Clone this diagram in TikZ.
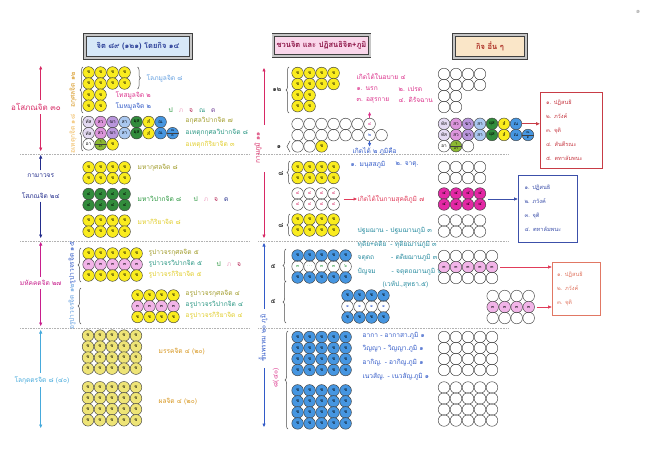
\documentclass[tikz,border=0pt]{standalone}
\usepackage{fontspec}
\newfontfamily\thaifont[Script=Thai]{Loma}
\usetikzlibrary{positioning,arrows.meta,decorations.pathreplacing,calc}

% circle fills
\definecolor{cyel}{RGB}{250,236,30}
\definecolor{cyelp}{RGB}{238,228,118}
\definecolor{cblu}{RGB}{70,150,225}
\definecolor{cgrn}{RGB}{50,140,60}
\definecolor{cpnk}{RGB}{242,180,232}
\definecolor{cmag}{RGB}{228,40,165}
\definecolor{clav}{RGB}{228,218,242}
\definecolor{cpur}{RGB}{220,150,220}
\definecolor{cvio}{RGB}{185,150,220}
\definecolor{clbl}{RGB}{170,200,240}
\definecolor{clim}{RGB}{140,185,50}
% text colours
\definecolor{tred}{RGB}{215,40,100}
\definecolor{tnav}{RGB}{35,45,140}
\definecolor{tmag}{RGB}{200,30,140}
\definecolor{tsky}{RGB}{70,170,220}
\definecolor{tgold}{RGB}{215,150,30}
\definecolor{tora}{RGB}{240,185,90}
\definecolor{tblu}{RGB}{50,90,200}
\definecolor{tlbl}{RGB}{100,160,225}
\definecolor{tpnk}{RGB}{220,50,140}
\definecolor{tlpk}{RGB}{240,170,200}
\definecolor{toli}{RGB}{160,155,40}
\definecolor{tteal}{RGB}{40,150,130}
\definecolor{tyel}{RGB}{225,205,40}
\definecolor{tgrn}{RGB}{40,150,60}
\definecolor{tcyan}{RGB}{40,140,160}
\definecolor{tpur}{RGB}{110,60,150}
\definecolor{tdrd}{RGB}{180,30,80}
% boxes
\definecolor{bred}{RGB}{200,60,70}
\definecolor{bnav}{RGB}{60,80,170}
\definecolor{bora}{RGB}{225,120,100}
\definecolor{aora}{RGB}{225,60,90}

% grid of circles: name, x0, y0, cols, rows, style, text
\newcommand{\cgrid}[7]{%
  \foreach \r in {1,...,#5}{%
    \foreach \c in {1,...,#4}{%
      \node[cir,#6] (#1-\r-\c) at ({#2+(\c-1)*12},{#3+(\r-1)*11}) {#7};}}}

\begin{document}
\begin{tikzpicture}[
    x=1pt, y=-1pt,
    font=\thaifont\fontsize{6.6}{7.6}\selectfont,
    cir/.style={
        circle,
        draw=black!75,
        line width=0.45pt,
        minimum size=11.6pt,
        inner sep=0pt,
        font=\thaifont\fontsize{4.6}{5}\selectfont
    },
    yel/.style={fill=cyel},
    yelp/.style={fill=cyelp},
    blu/.style={fill=cblu},
    grn/.style={fill=cgrn},
    pnk/.style={fill=cpnk},
    mag/.style={fill=cmag},
    lbl/.style={anchor=west, inner sep=0.5pt},
    vlbl/.style={rotate=90, inner sep=0.5pt},
    tiny/.style={inner sep=0pt, font=\thaifont\fontsize{3.4}{3.6}\selectfont},
    arrow/.style={
        -{Triangle[length=3.5pt,width=3pt]},
        line width=0.6pt
    },
    brace/.style={
        decorate,
        decoration={brace, amplitude=3pt},
        line width=0.5pt,
        black!70
    },
    sep/.style={gray!60, densely dotted, line width=0.6pt},
    titlebox/.style={
        draw=black!75,
        line width=0.7pt,
        double=gray!45,
        double distance=2pt,
        font=\thaifont\fontsize{7.5}{9}\selectfont\bfseries
    },
    fnbox/.style={
        draw,
        line width=0.6pt,
        align=left,
        inner sep=3pt,
        font=\thaifont\fontsize{5.6}{14}\selectfont
    }
]
\useasboundingbox (0,0) rectangle (650,476);
\fill[white] (0,0) rectangle (650,476);

% Titles
\node[titlebox, fill={rgb,255:red,215;green,232;blue,248}, text={rgb,255:red,40;green,60;blue,150},
      minimum width=106pt, minimum height=23pt] (tleft) at (138,46.5) {จิต ๘๙ (๑๒๑) โดยกิจ ๑๔};
\node[titlebox, fill={rgb,255:red,250;green,215;blue,235}, text={rgb,255:red,140;green,20;blue,70},
      minimum width=73pt, minimum height=21pt] (tmid) at (321.5,45.5) {ชวนจิต และ ปฏิสนธิจิต+ภูมิ};
\node[titlebox, fill={rgb,255:red,250;green,230;blue,200}, text={rgb,255:red,170;green,40;blue,30},
      minimum width=72pt, minimum height=23pt] (tright) at (490,46.5) {กิจ อื่น ๆ};
\node[gray!70, font=\thaifont\fontsize{7}{8}\selectfont] (pgno) at (638,12) {๑};

% Separators
\foreach \y in {154,241,328} {
    \draw[sep] (20,\y) -- (250,\y);
    \draw[sep] (258,\y) -- (508,\y);
}

% ---------------- Left column ----------------
% Asobhana 30
\node[text=tred, font=\thaifont\fontsize{8}{9}\selectfont] (lasob) at (36,107) {อโสภณจิต ๓๐};
\coordinate (lasobT) at (40.7,66);
\coordinate (lasobB) at (40.7,151);
\draw[arrow, tred] (lasob.north -| lasobT) -- (lasobT);
\draw[arrow, tred] (lasob.south -| lasobB) -- (lasobB);

% Akusala 12
\cgrid{lak}{88.6}{72.5}{4}{2}{yel}{ช}
\cgrid{lakb}{88.6}{94.7}{2}{2}{yel}{ช}
\draw[brace] (83,113) -- (83,67);
\node[vlbl, text=tgold] (lakl) at (73,90) {อกุศลจิต ๑๒};
\draw[brace] (137.5,67) -- (137.5,89);
\node[lbl, text=tlbl] (llobha) at (146,78) {โลภมูลจิต ๘};
\node[lbl, text=tpnk] (ldosa) at (115,95) {โทสมูลจิต ๒};
\node[lbl, text=tblu] (lmoha) at (115,106) {โมหมูลจิต ๒};
\node[lbl] (lfn1) at (168,110) {\textcolor{tgrn}{ป}\hspace{6pt}\textcolor{tlpk}{ภ}\hspace{6pt}\textcolor{tdrd}{จ}\hspace{6pt}\textcolor{tteal}{ณ}\hspace{6pt}\textcolor{tpur}{ต}};

% Ahetuka 18
\foreach \fc/\tx [count=\c] in {clav/ทัส,cpur/สว,cvio/ฆา,clbl/สา,cgrn/ผุส,cyel/สํ,cblu/ณ} {
    \node[cir, fill=\fc] (lah-1-\c) at ({88.6+(\c-1)*12},122) {\tx};
    \node[cir, fill=\fc] (lah-2-\c) at ({88.6+(\c-1)*12},133.2) {\tx};
}
\node[cir, fill=cblu] (lah-2-8) at ({88.6+7*12},133.2) {};
\draw[black!75, line width=0.4pt] (lah-2-8.west) -- (lah-2-8.east);
\node[tiny] at ([yshift=2.6pt]lah-2-8.center) {ณ};
\node[tiny] at ([yshift=-2.6pt]lah-2-8.center) {ต};
\node[cir, fill=white] (lah-3-1) at (88.6,144.4) {อา};
\node[cir, fill=clim] (lah-3-2) at (100.6,144.4) {};
\draw[black!75, line width=0.4pt] (lah-3-2.west) -- (lah-3-2.east);
\node[tiny] at ([yshift=2.6pt]lah-3-2.center) {วุ};
\node[tiny] at ([yshift=-2.6pt]lah-3-2.center) {อา};
\node[cir, yel] (lah-3-3) at (112.6,144.4) {ช};
\draw[brace] (83,151) -- (83,116);
\node[vlbl, text=tora] (lahl) at (73,134) {อเหตุกจิต ๑๘};
\node[lbl, text=toli] (lakv) at (185,121) {อกุศลวิปากจิต ๗};
\node[lbl, text=tteal] (lahkv) at (185,133) {อเหตุกกุศลวิปากจิต ๘};
\node[lbl, text=tyel] (lahki) at (185,145) {อเหตุกกิริยาจิต ๓};

% Kamavacara sobhana 24
\node[text=tnav, align=center] (lkam) at (40.7,186) {กามาวจร\\[13pt]โสภณจิต ๒๔};
\coordinate (lkamT) at (40.7,155);
\coordinate (lkamB) at (40.7,238);
\draw[arrow, tnav] (lkam.north) -- (lkamT);
\draw[arrow, tnav] (lkam.south) -- (lkamB);
\cgrid{lmk}{88.6}{167.3}{4}{2}{yel}{ช}
\cgrid{lmv}{88.6}{194}{4}{2}{grn}{๔}
\cgrid{lmi}{88.6}{220.6}{4}{2}{yel}{ช}
\node[lbl, text=toli] (lmkl) at (137,168) {มหากุศลจิต ๘};
\node[lbl, text=tgrn] (lmvl) at (137,199) {มหาวิปากจิต ๘};
\node[lbl] (lfn2) at (193,199) {\textcolor{tgrn}{ป}\hspace{6pt}\textcolor{tlpk}{ภ}\hspace{6pt}\textcolor{tdrd}{จ}\hspace{6pt}\textcolor{tnav}{ต}};
\node[lbl, text=tyel] (lmil) at (137,222) {มหากิริยาจิต ๘};

% Mahaggata 27
\node[text=tmag] (lmah) at (40.7,283) {มหัคคตจิต ๒๗};
\coordinate (lmahT) at (40.7,242);
\coordinate (lmahB) at (40.7,326);
\draw[arrow, tmag] (lmah.north) -- (lmahT);
\draw[arrow, tmag] (lmah.south) -- (lmahB);
\cgrid{lrk}{88.6}{253.5}{5}{1}{yel}{ช}
\cgrid{lrv}{88.6}{264.5}{5}{1}{pnk}{๓}
\cgrid{lri}{88.6}{275.5}{5}{1}{yel}{ช}
\draw[brace] (81,282) -- (81,248);
\node[vlbl, text=tblu] (lrl) at (72,263) {รูปาวจรจิต ๑๕};
\node[lbl, text=toli] (lrkl) at (148,253) {รูปาวจรกุศลจิต ๕};
\node[lbl, text=tteal] (lrvl) at (148,264) {รูปาวจรวิปากจิต ๕};
\node[lbl] (lfn3) at (216,264) {\textcolor{tgrn}{ป}\hspace{6pt}\textcolor{tlpk}{ภ}\hspace{6pt}\textcolor{tdrd}{จ}};
\node[lbl, text=tyel] (lril) at (148,275) {รูปาวจรกิริยาจิต ๕};
\cgrid{lak4}{137.5}{295.5}{4}{1}{yel}{ช}
\cgrid{lav4}{137.5}{306.3}{4}{1}{pnk}{๓}
\cgrid{lai4}{137.5}{317}{4}{1}{yel}{ช}
\draw[brace] (81,324) -- (81,288);
\node[vlbl, text=tlbl] (lal) at (72,307) {อรูปาวจรจิต ๑๒};
\node[lbl, text=toli] (lakl4) at (185,294) {อรูปาวจรกุศลจิต ๔};
\node[lbl, text=tteal] (lavl4) at (185,305) {อรูปาวจรวิปากจิต ๔};
\node[lbl, text=tyel] (lail4) at (185,316) {อรูปาวจรกิริยาจิต ๔};

% Lokuttara 8 (40)
\node[text=tsky] (llok) at (42,380) {โลกุตตรจิต ๘ (๔๐)};
\coordinate (llokT) at (40.7,330);
\coordinate (llokB) at (40.7,428);
\draw[arrow, tsky] (llok.north -| llokT) -- (llokT);
\draw[arrow, tsky] (llok.south -| llokB) -- (llokB);
\cgrid{lmg}{88}{335.6}{5}{4}{yelp}{ช}
\cgrid{lph}{88}{387.3}{5}{4}{yelp}{ช}
\node[lbl, text=tgold] (lmgl) at (158,352) {มรรคจิต ๔ (๒๐)};
\node[lbl, text=tgold] (lphl) at (158,402) {ผลจิต ๔ (๒๐)};

% ---------------- Middle column ----------------
\node[vlbl, text=tred] (mkam) at (258,148) {กามภูมิ ๑๑};
\coordinate (mkamA) at (264,125);
\coordinate (mkamT) at (264,68);
\coordinate (mkamB) at (264,172);
\coordinate (mkamD) at (264,238);
\draw[arrow, tred] (mkamA) -- (mkamT);
\draw[arrow, tred] (mkamB) -- (mkamD);

\cgrid{mak}{297.6}{73}{4}{2}{yel}{ช}
\cgrid{makb}{297.6}{95.2}{2}{2}{yel}{ช}
\draw[brace] (289,113) -- (289,67);
\node (makn) at (277,90) {๑๒};
\node[lbl, text=tpnk] (mapa) at (356,77) {เกิดได้ในอบาย ๔};
\node[lbl, text=tpnk] (map1) at (356,89) {๑. นรก};
\node[lbl, text=tpnk] (map2) at (398,89) {๒. เปรต};
\node[lbl, text=tpnk] (map3) at (356,100) {๓. อสุรกาย};
\node[lbl, text=tpnk] (map4) at (398,100) {๔. ดิรัจฉาน};

\foreach \c in {1,...,6} {
    \node[cir] (mah-1-\c) at ({297.6+(\c-1)*12},124) {};
    \node[cir] (mah-2-\c) at ({297.6+(\c-1)*12},135.2) {};
}
\node[cir, text=tpnk] (mah-1-7) at ({297.6+6*12},124) {๔};
\node[cir, text=tblu] (mah-2-7) at ({297.6+6*12},135.2) {๒};
\node[cir] (mah-2-8) at ({297.6+7*12},135.2) {};
\node[cir] (mah-3-1) at (297.6,146.4) {};
\node[cir] (mah-3-2) at (309.6,146.4) {};
\node[cir, yel] (mah-3-3) at (321.6,146.4) {ช};
\draw[brace] (290,152) -- (290,141);
\node (mahn) at (279,147) {๑};
\coordinate (mup4) at ($(mah-1-7.north)+(0,-6)$);
\draw[arrow, tpnk] (mah-1-7.north) -- (mup4);
\node[lbl, text=tblu] (mgd2) at (352,151) {เกิดได้ ๒ ภูมิคือ};
\draw[arrow, tblu] (mah-2-7.south) -- (mah-2-7.south |- mgd2.north);

\cgrid{mmk}{297.6}{167}{4}{2}{yel}{ช}
\cgrid{mmv}{297.6}{193.5}{4}{2}{}{\textcolor{tred}{๔}}
\cgrid{mmi}{297.6}{219.5}{4}{2}{yel}{ช}
\draw[brace] (290,184) -- (290,161);
\node (mmkn) at (281,173) {๘};
\draw[brace] (290,236) -- (290,214);
\node (mmin) at (281,225) {๘};
\node[lbl, text=tblu] (mmu1) at (350,165) {๑. มนุสสภูมิ};
\node[lbl, text=tblu] (mmu2) at (395,165) {๒. จาตุ.};
\node[lbl, text=aora] (mks) at (357,199) {เกิดได้ในกามสุคติภูมิ ๗};
\coordinate (mmvm) at ($(mmv-1-4.east)!0.5!(mmv-2-4.east)$);
\draw[arrow, aora, shorten <=4pt] (mmvm) -- (mks.west);
\node[lbl, text=tcyan] (mj1) at (357,231) {ปฐมฌาน - ปฐมฌานภูมิ ๓};

% Brahma planes
\node[vlbl, text=tblu] (mbr) at (263,338) {ชั้นพรหม ๒๐ ภูมิ};
\coordinate (mbrA) at (264,309);
\coordinate (mbrT) at (264,243);
\coordinate (mbrB) at (264,368);
\coordinate (mbrD) at (264,427);
\draw[arrow, tblu] (mbrA) -- (mbrT);
\draw[arrow, tblu] (mbrB) -- (mbrD);

\cgrid{mrk}{297.6}{255.5}{5}{1}{blu}{ช}
\foreach \tx [count=\c] in {๓,{.\,.\,.},๓,๓,๖}
    \node[cir, text=tgrn] (mrv-\c) at ({297.6+(\c-1)*12},266.5) {\tx};
\cgrid{mri}{297.6}{277.5}{5}{1}{blu}{ช}
\cgrid{mak4}{347.5}{295.5}{4}{1}{blu}{ช}
\cgrid{mav4}{347.5}{306.5}{4}{1}{}{\textcolor{tblu}{๑}}
\cgrid{mai4}{347.5}{317.5}{4}{1}{blu}{ช}
\draw[brace] (286,282) -- (286,249);
\node (mr5a) at (273,266) {๕};
\draw[brace] (286,323) -- (286,281);
\node (mr5b) at (273,301) {๕};
\node[lbl, text=tcyan] (mj2) at (357,245) {ทุติย+ตติย\hspace{4pt}- ทุติยฌานภูมิ ๓};
\node[lbl, text=tcyan] (mj3) at (357,258) {จตุตถ\hspace{17pt}- ตติยฌานภูมิ ๓};
\node[lbl, text=tcyan] (mj4) at (357,272) {ปัญจม\hspace{16pt}- จตุตถฌานภูมิ ๖};
\node[lbl, text=tcyan] (mj5) at (382,285) {(เวหัป.,สุทธา.๕)};

\cgrid{mmg}{297.6}{337}{5}{4}{blu}{ช}
\cgrid{mph}{297.6}{390.4}{5}{4}{blu}{ช}
\draw[brace] (288,429) -- (288,331);
\node[vlbl, text=tpnk] (mlokn) at (276,378) {๘(๔๐)};
\node[lbl, text=tblu] (mar1) at (362,336) {อากา - อากาสา.ภูมิ ๑};
\node[lbl, text=tblu] (mar2) at (362,349) {วิญญา - วิญญา.ภูมิ ๑};
\node[lbl, text=tblu] (mar3) at (362,363) {อากิญ. - อากิญ.ภูมิ ๑};
\node[lbl, text=tblu] (mar4) at (362,377) {เนวสัญ. - เนวสัญ.ภูมิ ๑};

% ---------------- Right column ----------------
\cgrid{rak}{444}{74}{4}{2}{}{}
\cgrid{rakb}{444}{96}{2}{2}{}{}
\foreach \fc/\tx [count=\c] in {clav/ทัส,cpur/สว,cvio/ฆา,clbl/สา,cgrn/ผุส,cyel/สํ,cblu/ณ} {
    \node[cir, fill=\fc] (rah-1-\c) at ({444+(\c-1)*12},123.8) {\tx};
    \node[cir, fill=\fc] (rah-2-\c) at ({444+(\c-1)*12},135) {\tx};
}
\node[cir, fill=cblu] (rah-2-8) at ({444+7*12},135) {};
\draw[black!75, line width=0.4pt] (rah-2-8.west) -- (rah-2-8.east);
\node[tiny] at ([yshift=2.6pt]rah-2-8.center) {ณ};
\node[tiny] at ([yshift=-2.6pt]rah-2-8.center) {ต};
\node[cir, fill=white] (rah-3-1) at (444,146.2) {อา};
\node[cir, fill=clim] (rah-3-2) at (456,146.2) {};
\draw[black!75, line width=0.4pt] (rah-3-2.west) -- (rah-3-2.east);
\node[tiny] at ([yshift=2.6pt]rah-3-2.center) {วุ};
\node[tiny] at ([yshift=-2.6pt]rah-3-2.center) {อา};
\node[cir] (rah-3-3) at (468,146.2) {};
\node[fnbox, draw=bred, text=bred, text width=50pt, minimum width=62pt, minimum height=76pt]
    (rb1) at (571,130) {๑. ปฏิสนธิ\\๒. ภวังค์\\๓. จุติ\\๔. สันตีรณะ\\๕. ตทาลัมพนะ};
\draw[arrow, bred] (rah-1-7.east) -- (rah-1-7.east -| rb1.west);

\cgrid{rmk}{444}{167}{4}{2}{}{}
\cgrid{rmv}{444}{193.5}{4}{2}{mag}{๔}
\cgrid{rmi}{444}{220.5}{4}{2}{}{}
\node[fnbox, draw=bnav, text=bnav, text width=46pt, minimum width=59pt, minimum height=67pt]
    (rb2) at (547.5,208.5) {๑. ปฏิสนธิ\\๒. ภวังค์\\๓. จุติ\\๔. ตทาลัมพนะ};
\coordinate (rmvm) at ($(rmv-1-4.east)!0.5!(rmv-2-4.east)$);
\draw[arrow, bnav, shorten <=2pt] (rmvm) -- (rmvm -| rb2.west);

\cgrid{rrk}{444}{256}{5}{1}{}{}
\cgrid{rrv}{444}{267}{5}{1}{pnk}{๓}
\cgrid{rri}{444}{278}{5}{1}{}{}
\cgrid{rak4}{492.7}{296}{4}{1}{}{}
\cgrid{rav4}{492.7}{307}{4}{1}{pnk}{๓}
\cgrid{rai4}{492.7}{318}{4}{1}{}{}
\node[fnbox, draw=bora, text=bora, text width=38pt, minimum width=48pt, minimum height=53pt]
    (rb3) at (576,288.5) {๑. ปฏิสนธิ\\๒. ภวังค์\\๓. จุติ};
\draw[arrow, aora, shorten <=2pt] (rrv-1-5.east) -- (rrv-1-5.east -| rb3.west);
\draw[arrow, aora, shorten <=2pt] (rav4-1-4.east) -- (rav4-1-4.east -| rb3.west);

\cgrid{rmg}{444}{337}{5}{4}{}{}
\cgrid{rph}{444}{387.5}{5}{4}{}{}
\end{tikzpicture}
\end{document}
